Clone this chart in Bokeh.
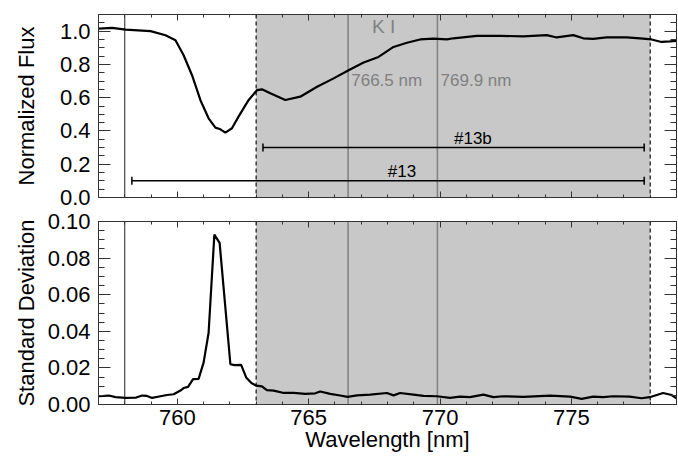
from bokeh.plotting import figure
from bokeh.models import (Range1d, FixedTicker, PrintfTickFormatter, LinearAxis,
                          BoxAnnotation, Span, Whisker, TeeHead, ColumnDataSource)
from bokeh.layouts import column
from bokeh.embed import file_html
from bokeh.resources import INLINE
from bokeh.core.properties import value

# ---------------- data ----------------
flux_wl = [757.01, 757.52, 758.03, 758.98, 759.55, 759.93, 760.24, 760.56, 760.88,
           761.19, 761.45, 761.64, 761.83, 762.08, 762.33, 762.71, 763.03, 763.22,
           763.54, 764.11, 764.68, 765.32, 765.95, 766.52, 767.09, 767.66, 768.23,
           768.74, 769.24, 769.75, 770.26, 770.51, 771.40, 772.29, 773.17, 774.06,
           774.44, 775.07, 775.45, 775.83, 776.34, 777.10, 777.61, 778.05, 778.43,
           778.75, 779.0]
flux = [1.015, 1.02, 1.009, 1.00, 0.975, 0.945, 0.855, 0.735, 0.585,
        0.476, 0.42, 0.41, 0.39, 0.416, 0.486, 0.585, 0.645, 0.65,
        0.626, 0.586, 0.606, 0.666, 0.716, 0.765, 0.811, 0.845, 0.905,
        0.93, 0.95, 0.955, 0.95, 0.957, 0.972, 0.972, 0.968, 0.976,
        0.962, 0.976, 0.957, 0.953, 0.962, 0.962, 0.957, 0.95, 0.935,
        0.938, 0.942]

std_wl = [757.01, 757.39, 757.65, 758.03, 758.41, 758.66, 758.85, 759.04, 759.36,
          759.61, 759.86, 760.12, 760.24, 760.41, 760.60, 760.81, 761.00, 761.19,
          761.41, 761.61, 762.02, 762.18, 762.43, 762.62, 762.82, 763.01, 763.22,
          763.41, 763.67, 764.05, 764.43, 764.87, 765.25, 765.44, 765.82, 766.20,
          766.48, 766.84, 767.34, 767.98, 768.23, 768.48, 768.99, 769.37, 769.88,
          770.38, 770.76, 771.14, 771.65, 772.03, 772.41, 773.17, 774.19, 774.95,
          775.39, 775.83, 776.21, 776.59, 777.22, 777.67, 777.98, 778.49, 778.81,
          779.0]
std = [0.0045, 0.0049, 0.0040, 0.0036, 0.0037, 0.0049, 0.0047, 0.0036, 0.0045,
       0.0052, 0.0056, 0.0076, 0.0090, 0.0096, 0.0139, 0.0140, 0.0229, 0.0391,
       0.0928, 0.0883, 0.0220, 0.0215, 0.0217, 0.0148, 0.0117, 0.0103, 0.0099,
       0.0079, 0.0076, 0.0063, 0.0063, 0.0058, 0.0061, 0.0071, 0.0058, 0.0049,
       0.0042, 0.0050, 0.0054, 0.0063, 0.0050, 0.0063, 0.0054, 0.0047, 0.0045,
       0.0036, 0.0043, 0.0040, 0.0054, 0.0040, 0.0045, 0.0042, 0.0049, 0.0043,
       0.0031, 0.0043, 0.0040, 0.0045, 0.0043, 0.0034, 0.0040, 0.0063, 0.0052,
       0.0034]

x_range = (757, 779)
flux_range = (0.0, 1.1)
std_range = (0.0, 0.10)

black_lines = [758.0]            # solid black
dashed_lines = [763.0, 778.0]    # dashed black, edges of shaded band
ki_lines = [766.5, 769.9]        # K I lines (gray)
ki_labels = ["766.5 nm", "769.9 nm"]
ki_label_y = [0.705, 0.705]
ki_title = "K I"
ki_title_x = [767.85]
ki_title_y = [1.03]

bar_names = ["#13", "#13b"]
bar_start = [758.27, 763.26]
bar_end = [777.77, 777.77]
bar_y = [0.10, 0.30]
bar_label_x = [768.55, 771.25]

x_major = [760, 765, 770, 775]
flux_major = [0.0, 0.2, 0.4, 0.6, 0.8, 1.0]
std_major = [0.00, 0.02, 0.04, 0.06, 0.08, 0.10]

# ---------------- style ----------------
FONT = "Liberation Sans"
AX = "#333333"
SHADE = "#c8c8c8"
GRAY = "#808080"

def style_axis(ax, major, minor, show_labels, fmt, tick_in, minor_in, font_px="22px"):
    ax.ticker = FixedTicker(ticks=major, minor_ticks=minor)
    ax.major_tick_in = tick_in
    ax.major_tick_out = 0
    ax.minor_tick_in = minor_in
    ax.minor_tick_out = 0
    ax.axis_line_color = AX
    ax.major_tick_line_color = AX
    ax.minor_tick_line_color = AX
    if show_labels:
        ax.formatter = PrintfTickFormatter(format=fmt)
        ax.major_label_text_font = FONT
        ax.major_label_text_font_size = font_px
        ax.major_label_text_color = "black"
    else:
        ax.major_label_text_font_size = "0px"
        ax.major_label_standoff = 0
        ax.formatter = PrintfTickFormatter(format=" ")

def frange(a, b, step):
    out = []
    v = a
    while v <= b + 1e-9:
        out.append(round(v, 6))
        v += step
    return out

x_minor = frange(757, 779, 1.0)
flux_minor = frange(0.0, 1.1, 0.05)
std_minor = frange(0.0, 0.10, 0.005)

def make_fig(height, yr, border_top, border_bottom, ymajor, yminor, yfmt,
             ylabel, ylabel_standoff, xlabels):
    p = figure(width=678, height=height, output_backend="svg", toolbar_location=None,
               x_range=Range1d(*x_range), y_range=Range1d(*yr),
               min_border_left=98, min_border_right=2,
               min_border_top=border_top, min_border_bottom=border_bottom,
               x_axis_location=None, y_axis_location=None)
    p.grid.visible = False
    p.outline_line_color = AX
    p.background_fill_color = "white"
    p.border_fill_color = "white"

    left = LinearAxis()
    style_axis(left, ymajor, yminor, True, yfmt, 12, 6)
    left.axis_label = ylabel
    left.axis_label_text_font = FONT
    left.axis_label_text_font_size = "22px"
    left.axis_label_text_font_style = "normal"
    left.axis_label_text_color = "black"
    left.axis_label_standoff = ylabel_standoff
    left.major_label_standoff = 8
    p.add_layout(left, "left")

    right = LinearAxis()
    style_axis(right, ymajor, yminor, False, None, 12, 6)
    p.add_layout(right, "right")

    below = LinearAxis()
    style_axis(below, x_major, x_minor, xlabels, "%d", 6, 3)
    if xlabels:
        below.axis_label = "Wavelength [nm]"
        below.axis_label_text_font = FONT
        below.axis_label_text_font_size = "22px"
        below.axis_label_text_font_style = "normal"
        below.axis_label_text_color = "black"
        below.axis_label_standoff = -1
        below.major_label_standoff = 5
    p.add_layout(below, "below")

    above = LinearAxis()
    style_axis(above, x_major, x_minor, False, None, 6, 3)
    p.add_layout(above, "above")

    # shaded band and vertical lines
    p.add_layout(BoxAnnotation(left=dashed_lines[0], right=dashed_lines[1],
                               fill_color=SHADE, fill_alpha=1.0, line_alpha=0,
                               level="underlay"))
    for xv in black_lines:
        p.add_layout(Span(location=xv, dimension="height", line_color="#222222",
                          line_width=1, level="underlay"))
    for xv in dashed_lines:
        p.add_layout(Span(location=xv, dimension="height", line_color="#111111",
                          line_width=1.2, line_dash="4 3", level="underlay"))
    for xv in ki_lines:
        p.add_layout(Span(location=xv, dimension="height", line_color=GRAY,
                          line_width=1.5, level="underlay"))
    return p

top = make_fig(209, flux_range, 14, 12, flux_major, flux_minor, "%.1f",
               "Normalized Flux", 18, False)
bot = make_fig(249, std_range, 12, 54, std_major, std_minor, "%.2f",
               "Standard Deviation", 6, True)

top.line(flux_wl, flux, line_color="black", line_width=2.2)
bot.line(std_wl, std, line_color="black", line_width=2.2)

# K I annotations
top.text(x=[ki_lines[0] + 0.12, ki_lines[1] + 0.12], y=ki_label_y, text=ki_labels,
         text_font=value(FONT), text_font_size="17px", text_color=GRAY,
         text_baseline="middle", text_align="left")
top.text(x=ki_title_x, y=ki_title_y, text=[ki_title], text_font=value(FONT),
         text_font_size="19px", text_color=GRAY, text_baseline="middle",
         text_align="center")

# measurement ranges
src = ColumnDataSource(dict(base=bar_y, lower=bar_start, upper=bar_end))
w = Whisker(source=src, base="base", lower="lower", upper="upper", dimension="width",
            line_color="black", line_width=1.5,
            lower_head=TeeHead(size=8, line_color="black", line_width=1.5),
            upper_head=TeeHead(size=8, line_color="black", line_width=1.5))
top.add_layout(w)
top.text(x=bar_label_x, y=bar_y, text=bar_names, text_font=value(FONT),
         text_font_size="17px", text_color="black", text_baseline="bottom",
         text_align="center", y_offset=0)

layout = column(top, bot, spacing=0)
open("out.html", "w").write(file_html(layout, INLINE))
